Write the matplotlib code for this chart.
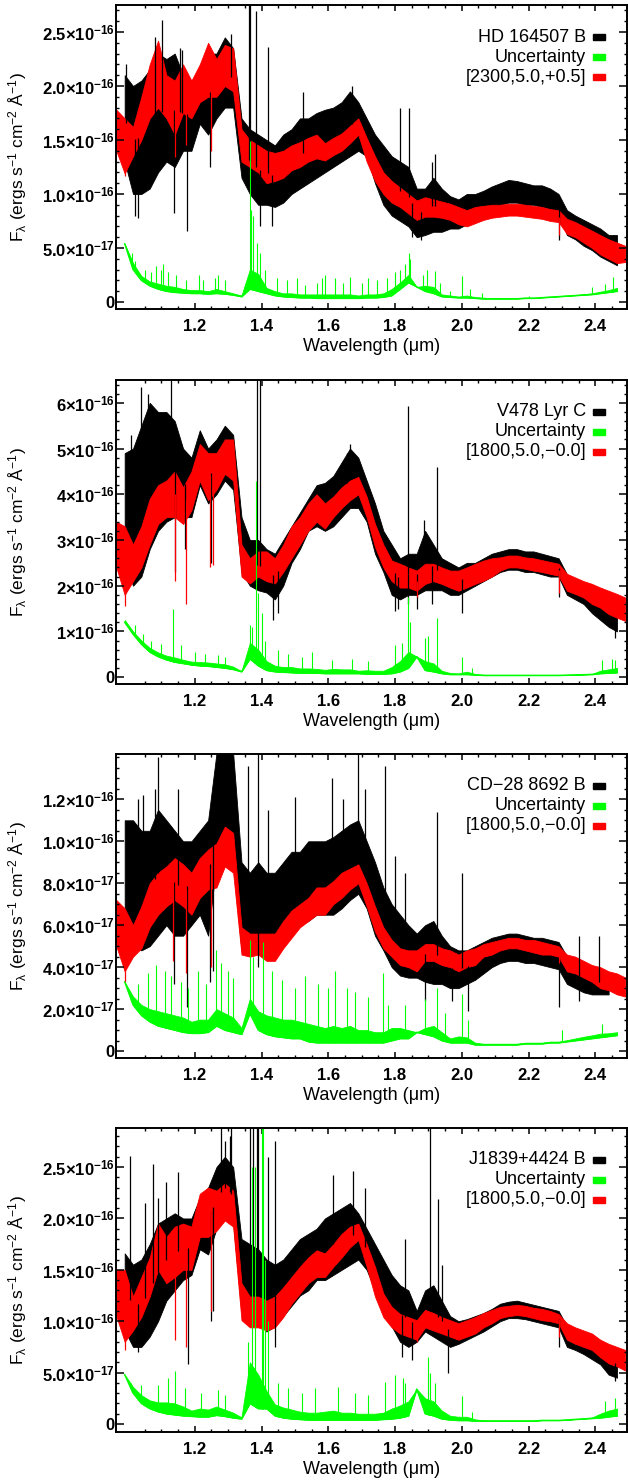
import numpy as np
import matplotlib
matplotlib.use("Agg")
import matplotlib.pyplot as plt
from matplotlib.patches import Rectangle
from matplotlib.ticker import FixedLocator, MultipleLocator

plt.rcParams["font.family"] = ["Liberation Sans", "DejaVu Sans"]
plt.rcParams["mathtext.fontset"] = "custom"
plt.rcParams["mathtext.rm"] = "Liberation Sans"
plt.rcParams["mathtext.it"] = "Liberation Sans"
plt.rcParams["mathtext.bf"] = "Liberation Sans:bold"

GREEN = "#00ff00"
RED = "#ff0000"

# common wavelength grid (micron), fluxes below are in units of 1e-16 erg/s/cm2/A
WAVE = [0.965, 0.990, 1.015, 1.040, 1.065, 1.090, 1.115, 1.140, 1.165, 1.190,
        1.215, 1.240, 1.265, 1.290, 1.315, 1.340, 1.365, 1.390, 1.415, 1.440,
        1.465, 1.490, 1.515, 1.540, 1.565, 1.590, 1.615, 1.640, 1.665, 1.690,
        1.715, 1.740, 1.765, 1.790, 1.815, 1.840, 1.865, 1.890, 1.915, 1.940,
        1.965, 1.990, 2.015, 2.040, 2.065, 2.090, 2.115, 2.140, 2.165, 2.190,
        2.215, 2.240, 2.265, 2.290, 2.315, 2.340, 2.365, 2.390, 2.415, 2.440,
        2.465, 2.490]

# ---------------- HD 164507 B ----------------
P1_BLK_LO = [None, 1.30, 1.00, 1.00, 1.05, 1.20, 1.30, 1.25, 1.40, 1.40,
             1.65, 1.55, 1.70, 1.80, 1.80, 1.15, 1.00, 0.90, 0.90, 0.88,
             0.92, 1.00, 1.05, 1.10, 1.15, 1.20, 1.25, 1.30, 1.35, 1.40,
             1.35, 1.10, 0.90, 0.80, 0.75, 0.70, 0.60, 0.62, 0.65, 0.65,
             0.68, 0.68, 0.72, 0.75, 0.80, 0.85, 0.90, 0.92, 0.92, 0.90,
             0.90, 0.88, 0.86, 0.82, 0.62, 0.58, 0.52, 0.48, 0.42, 0.38,
             0.34, None]
P1_BLK_HI = [None, 2.10, 2.00, 2.05, 2.15, 2.30, 2.25, 2.30, 2.10, 2.05,
             2.10, 2.30, 2.30, 2.45, 2.35, 1.70, 1.60, 1.55, 1.50, 1.45,
             1.55, 1.60, 1.70, 1.70, 1.75, 1.78, 1.80, 1.85, 1.95, 1.85,
             1.70, 1.55, 1.45, 1.35, 1.30, 1.25, 1.05, 1.05, 1.15, 1.05,
             0.98, 0.95, 1.00, 1.00, 1.03, 1.07, 1.10, 1.13, 1.12, 1.10,
             1.08, 1.08, 1.05, 1.00, 0.85, 0.80, 0.76, 0.72, 0.68, 0.62,
             0.62, None]
P1_RED_LO = [1.40, 1.19, 1.35, 1.50, 1.70, 1.80, 1.70, 1.55, 1.75, 1.70,
             1.85, 1.90, 1.90, 2.00, 1.95, 1.30, 1.25, 1.20, 1.10, 1.12,
             1.15, 1.22, 1.25, 1.30, 1.33, 1.31, 1.36, 1.40, 1.47, 1.55,
             1.30, 1.12, 1.00, 0.92, 0.88, 0.82, 0.76, 0.79, 0.79, 0.78,
             0.76, 0.72, 0.70, 0.73, 0.76, 0.78, 0.79, 0.80, 0.80, 0.79,
             0.78, 0.77, 0.75, 0.74, 0.63, 0.60, 0.55, 0.50, 0.44, 0.40,
             0.36, 0.37]
P1_RED_HI = [1.78, 1.70, 1.62, 1.90, 2.20, 2.42, 2.10, 2.05, 2.20, 2.05,
             2.20, 2.40, 2.25, 2.38, 2.35, 1.60, 1.50, 1.45, 1.40, 1.38,
             1.40, 1.45, 1.48, 1.52, 1.55, 1.47, 1.52, 1.56, 1.63, 1.70,
             1.52, 1.35, 1.20, 1.12, 1.06, 1.00, 0.94, 0.97, 0.95, 0.93,
             0.91, 0.88, 0.85, 0.88, 0.89, 0.90, 0.90, 0.91, 0.91, 0.90,
             0.89, 0.88, 0.86, 0.85, 0.77, 0.74, 0.70, 0.66, 0.62, 0.58,
             0.55, 0.52]
P1_GRN_BASE = [None, 0.54, 0.30, 0.20, 0.15, 0.12, 0.10, 0.09, 0.085, 0.08,
               0.08, 0.075, 0.08, 0.075, 0.065, 0.05, 0.12, 0.10, 0.08, 0.06,
               0.05, 0.045, 0.04, 0.04, 0.035, 0.035, 0.035, 0.035, 0.035, 0.035,
               0.04, 0.04, 0.045, 0.06, 0.12, 0.18, 0.14, 0.10, 0.08, 0.05,
               0.045, 0.04, 0.04, 0.035, 0.03, 0.03, 0.03, 0.03, 0.03, 0.035,
               0.035, 0.04, 0.045, 0.05, 0.055, 0.06, 0.065, 0.07, 0.08, 0.09,
               0.10, None]
P1_GRN_TOP = [None, 0.54, 0.36, 0.24, 0.19, 0.17, 0.15, 0.14, 0.12, 0.11,
              0.11, 0.10, 0.12, 0.10, 0.08, 0.06, 0.30, 0.26, 0.13, 0.10,
              0.08, 0.08, 0.07, 0.07, 0.07, 0.07, 0.07, 0.07, 0.07, 0.06,
              0.07, 0.07, 0.08, 0.12, 0.18, 0.25, 0.14, 0.15, 0.14, 0.07,
              0.06, 0.05, 0.06, 0.045, 0.04, 0.035, 0.035, 0.035, 0.035, 0.04,
              0.04, 0.045, 0.05, 0.055, 0.06, 0.065, 0.072, 0.08, 0.095, 0.11,
              0.13, None]
P1_BLK_SPIKES = [(0.995, 2.20), (1.080, 2.45), (1.103, 2.61), (1.155, 2.35),
                 (1.163, 2.33), (1.310, 2.48), (1.362, 2.80), (1.365, 2.75),
                 (1.382, 2.69), (1.420, 2.36), (1.523, 1.94), (1.671, 2.00),
                 (1.815, 1.80), (1.841, 1.80), (1.910, 1.30), (1.920, 1.37),
                 (1.020, 0.80), (1.030, 0.78), (1.138, 0.82), (1.176, 0.66),
                 (1.247, 1.25), (1.395, 0.70), (1.432, 0.70), (1.850, 0.60),
                 (1.878, 0.57), (2.291, 0.57)]
P1_RED_DIPS = [(0.990, 1.17), (1.140, 1.34), (1.173, 1.45), (1.248, 1.40), (2.291, 0.62)]
P1_GRN_SPIKES = [(1.012, 0.45), (1.022, 0.38), (1.050, 0.30), (1.070, 0.28), (1.085, 0.33),
                 (1.100, 0.30), (1.105, 0.35), (1.120, 0.28), (1.145, 0.25), (1.175, 0.20),
                 (1.213, 0.25), (1.225, 0.20), (1.260, 0.22), (1.270, 0.25), (1.290, 0.20),
                 (1.365, 1.49), (1.368, 0.85), (1.375, 0.80), (1.385, 0.55), (1.395, 0.45),
                 (1.410, 0.30), (1.445, 0.22), (1.475, 0.20), (1.505, 0.22), (1.530, 0.16),
                 (1.565, 0.18), (1.580, 0.22), (1.590, 0.25), (1.620, 0.22), (1.645, 0.18),
                 (1.665, 0.23), (1.700, 0.18), (1.720, 0.22), (1.745, 0.20), (1.775, 0.22),
                 (1.800, 0.28), (1.815, 0.30), (1.830, 0.35), (1.841, 0.45), (1.845, 0.40),
                 (1.885, 0.25), (1.897, 0.30), (1.920, 0.29), (1.935, 0.18), (1.965, 0.10),
                 (2.000, 0.24), (2.025, 0.12), (2.060, 0.08), (2.200, 0.06), (2.390, 0.14),
                 (2.430, 0.17), (2.452, 0.23)]

# ---------------- V478 Lyr C ----------------
P2_BLK_LO = [None, 2.50, 2.00, 2.20, 2.80, 3.20, 3.40, 3.50, 3.50, 3.50,
             4.20, 3.80, 4.00, 4.30, 4.10, 2.30, 2.00, 1.90, 1.85, 1.70,
             2.00, 2.50, 2.80, 3.20, 3.30, 3.20, 3.30, 3.50, 3.70, 3.70,
             3.40, 2.70, 2.30, 1.80, 1.70, 1.80, 1.80, 1.90, 1.90, 1.90,
             1.80, 1.80, 1.90, 2.00, 2.10, 2.20, 2.30, 2.35, 2.35, 2.30,
             2.30, 2.25, 2.20, 2.20, 1.80, 1.70, 1.60, 1.40, 1.25, 1.10,
             1.00, None]
P2_BLK_HI = [None, 4.90, 5.00, 5.50, 6.00, 5.80, 5.80, 5.60, 5.00, 4.80,
             5.40, 5.00, 5.20, 5.50, 5.30, 3.50, 3.00, 3.00, 2.80, 2.70,
             3.00, 3.30, 3.60, 3.90, 4.20, 4.25, 4.40, 4.70, 5.00, 4.80,
             4.30, 3.80, 3.20, 2.90, 2.60, 2.70, 2.70, 3.20, 2.90, 2.60,
             2.50, 2.40, 2.50, 2.50, 2.60, 2.70, 2.75, 2.80, 2.80, 2.75,
             2.75, 2.70, 2.65, 2.60, 2.25, 2.10, 2.00, 1.90, 1.80, 1.60,
             1.50, None]
P2_RED_LO = [2.40, 1.80, 2.10, 2.40, 2.90, 3.35, 3.50, 3.50, 3.35, 3.65,
             4.30, 3.87, 4.10, 4.45, 4.30, 2.20, 2.05, 2.20, 2.10, 2.05,
             2.30, 2.60, 2.90, 3.20, 3.40, 3.25, 3.50, 3.70, 3.87, 4.00,
             3.50, 2.85, 2.40, 2.10, 1.96, 1.96, 1.89, 2.04, 2.10, 2.04,
             1.96, 1.89, 1.96, 2.04, 2.11, 2.20, 2.33, 2.40, 2.40, 2.37,
             2.33, 2.30, 2.26, 2.22, 1.89, 1.82, 1.74, 1.60, 1.52, 1.38,
             1.30, 1.23]
P2_RED_HI = [3.40, 3.30, 2.90, 3.30, 3.90, 4.20, 4.30, 4.50, 4.15, 4.50,
             5.10, 4.90, 4.90, 5.20, 5.20, 2.90, 2.60, 2.75, 2.75, 2.60,
             2.90, 3.30, 3.50, 3.80, 4.00, 3.80, 3.95, 4.15, 4.30, 4.38,
             3.95, 3.35, 2.90, 2.55, 2.48, 2.40, 2.33, 2.48, 2.48, 2.40,
             2.33, 2.33, 2.40, 2.48, 2.55, 2.60, 2.62, 2.66, 2.66, 2.62,
             2.60, 2.56, 2.52, 2.48, 2.26, 2.18, 2.10, 2.04, 1.96, 1.89,
             1.82, 1.74]
P2_GRN_BASE = [None, 1.20, 0.94, 0.72, 0.55, 0.45, 0.38, 0.33, 0.30, 0.27,
               0.25, 0.24, 0.22, 0.20, 0.17, 0.12, 0.40, 0.25, 0.15, 0.12,
               0.11, 0.10, 0.09, 0.09, 0.09, 0.08, 0.08, 0.08, 0.08, 0.08,
               0.07, 0.07, 0.07, 0.08, 0.12, 0.20, 0.45, 0.15, 0.12, 0.08,
               0.06, 0.06, 0.06, 0.05, 0.04, 0.04, 0.04, 0.04, 0.04, 0.04,
               0.04, 0.04, 0.04, 0.04, 0.045, 0.05, 0.055, 0.06, 0.08, 0.09,
               0.10, None]
P2_GRN_TOP = [None, 1.25, 1.00, 0.80, 0.64, 0.54, 0.47, 0.43, 0.38, 0.34,
              0.33, 0.32, 0.30, 0.28, 0.23, 0.13, 0.75, 0.60, 0.35, 0.25,
              0.22, 0.22, 0.19, 0.19, 0.18, 0.16, 0.18, 0.17, 0.17, 0.14,
              0.15, 0.14, 0.14, 0.22, 0.35, 0.55, 0.45, 0.35, 0.30, 0.14,
              0.09, 0.08, 0.12, 0.07, 0.05, 0.045, 0.045, 0.045, 0.045, 0.045,
              0.045, 0.045, 0.045, 0.045, 0.05, 0.058, 0.063, 0.07, 0.14, 0.17,
              0.20, None]
P2_BLK_SPIKES = [(1.010, 5.30), (1.040, 6.35), (1.060, 6.20), (1.130, 6.50),
                 (1.385, 6.60), (1.395, 6.60), (1.655, 4.90), (1.665, 5.10),
                 (1.840, 5.93), (1.888, 3.43), (1.925, 4.60),
                 (1.140, 2.30), (1.170, 2.80), (1.248, 2.50), (1.435, 1.25),
                 (1.450, 1.40), (1.800, 1.45), (1.810, 1.50), (1.840, 1.60),
                 (1.865, 1.50), (1.910, 1.60), (2.000, 1.41), (2.291, 1.75),
                 (2.460, 0.85)]
P2_RED_DIPS = [(0.990, 1.55), (1.140, 2.10), (1.175, 1.60), (1.247, 2.40),
               (1.255, 2.45), (1.865, 1.75), (2.291, 1.85)]
P2_GRN_SPIKES = [(1.020, 1.15), (1.045, 0.95), (1.070, 0.80), (1.100, 0.72), (1.135, 1.50),
                 (1.160, 0.70), (1.200, 0.55), (1.230, 0.50), (1.270, 0.48), (1.290, 0.45),
                 (1.365, 1.15), (1.372, 1.10), (1.382, 4.30), (1.390, 1.85), (1.400, 1.40),
                 (1.410, 0.80), (1.450, 0.60), (1.480, 0.50), (1.520, 0.45), (1.550, 0.55),
                 (1.610, 0.38), (1.670, 0.40), (1.720, 0.35), (1.800, 0.70), (1.820, 0.75),
                 (1.840, 1.75), (1.845, 1.20), (1.890, 0.85), (1.900, 0.90), (1.925, 1.30),
                 (2.000, 0.45), (2.030, 0.20), (2.420, 0.38), (2.450, 0.40), (2.460, 0.38)]

# ---------------- CD-28 8692 B ----------------
P3_BLK_LO = [None, 0.45, 0.50, 0.48, 0.50, 0.55, 0.60, 0.55, 0.55, 0.60,
             0.65, 0.55, 0.90, 0.95, 0.90, 0.48, 0.48, 0.48, 0.48, 0.48,
             0.55, 0.55, 0.60, 0.62, 0.65, 0.65, 0.65, 0.68, 0.72, 0.75,
             0.68, 0.55, 0.48, 0.40, 0.36, 0.35, 0.35, 0.33, 0.32, 0.32,
             0.30, 0.30, 0.32, 0.34, 0.37, 0.40, 0.42, 0.43, 0.43, 0.42,
             0.42, 0.41, 0.40, 0.39, 0.32, 0.30, 0.28, 0.27, 0.27, 0.27,
             None, None]
P3_BLK_HI = [None, 1.10, 1.10, 1.05, 1.05, 1.15, 1.10, 1.05, 1.00, 1.00,
             1.05, 1.10, 1.42, 1.42, 1.42, 0.90, 0.85, 0.90, 0.85, 0.85,
             0.90, 0.95, 0.95, 1.00, 1.00, 1.00, 1.02, 1.05, 1.08, 1.10,
             1.00, 0.90, 0.78, 0.70, 0.65, 0.60, 0.56, 0.60, 0.62, 0.55,
             0.50, 0.48, 0.48, 0.50, 0.52, 0.54, 0.55, 0.56, 0.56, 0.55,
             0.54, 0.54, 0.53, 0.52, 0.45, 0.43, 0.42, 0.40, 0.38, 0.36,
             None, None]
P3_RED_LO = [0.50, 0.38, 0.45, 0.49, 0.59, 0.65, 0.69, 0.72, 0.69, 0.65,
             0.73, 0.77, 0.78, 0.88, 0.85, 0.46, 0.45, 0.46, 0.43, 0.43,
             0.49, 0.54, 0.59, 0.62, 0.65, 0.65, 0.70, 0.73, 0.77, 0.80,
             0.69, 0.57, 0.49, 0.45, 0.41, 0.40, 0.38, 0.43, 0.43, 0.41,
             0.40, 0.38, 0.40, 0.41, 0.45, 0.46, 0.48, 0.49, 0.49, 0.48,
             0.47, 0.46, 0.46, 0.45, 0.38, 0.37, 0.35, 0.33, 0.30, 0.29,
             0.27, 0.26]
P3_RED_HI = [0.72, 0.68, 0.60, 0.69, 0.80, 0.85, 0.88, 0.92, 0.89, 0.85,
             0.92, 0.96, 0.99, 1.07, 1.04, 0.59, 0.56, 0.56, 0.56, 0.56,
             0.62, 0.67, 0.70, 0.73, 0.78, 0.78, 0.81, 0.85, 0.87, 0.89,
             0.80, 0.69, 0.59, 0.53, 0.49, 0.48, 0.48, 0.51, 0.51, 0.49,
             0.48, 0.46, 0.48, 0.49, 0.51, 0.52, 0.53, 0.54, 0.54, 0.53,
             0.53, 0.52, 0.51, 0.50, 0.46, 0.45, 0.43, 0.41, 0.40, 0.38,
             0.37, 0.35]
P3_GRN_BASE = [None, 0.33, 0.22, 0.17, 0.14, 0.12, 0.11, 0.10, 0.09, 0.085,
               0.085, 0.09, 0.12, 0.10, 0.09, 0.08, 0.18, 0.10, 0.08, 0.07,
               0.065, 0.06, 0.06, 0.045, 0.04, 0.04, 0.04, 0.04, 0.04, 0.04,
               0.04, 0.04, 0.04, 0.05, 0.06, 0.06, 0.09, 0.08, 0.07, 0.05,
               0.04, 0.04, 0.04, 0.03, 0.03, 0.03, 0.03, 0.03, 0.03, 0.035,
               0.035, 0.035, 0.04, 0.04, 0.045, 0.05, 0.055, 0.06, 0.065, 0.07,
               0.075, None]
P3_GRN_TOP = [None, 0.33, 0.26, 0.22, 0.20, 0.19, 0.18, 0.17, 0.16, 0.14,
              0.15, 0.15, 0.20, 0.18, 0.16, 0.11, 0.25, 0.19, 0.17, 0.16,
              0.15, 0.15, 0.14, 0.13, 0.12, 0.11, 0.12, 0.11, 0.12, 0.10,
              0.10, 0.09, 0.09, 0.11, 0.11, 0.10, 0.09, 0.11, 0.12, 0.09,
              0.06, 0.07, 0.065, 0.04, 0.035, 0.035, 0.035, 0.035, 0.035, 0.04,
              0.04, 0.04, 0.045, 0.045, 0.052, 0.06, 0.068, 0.075, 0.083, 0.085,
              0.09, None]
P3_BLK_SPIKES = [(1.030, 1.20), (1.045, 1.22), (1.080, 1.25), (1.090, 1.40),
                 (1.150, 1.25), (1.360, 1.36), (1.390, 1.42), (1.420, 1.15),
                 (1.500, 1.21), (1.610, 1.30), (1.645, 1.20), (1.690, 1.42),
                 (1.710, 1.25), (1.770, 1.36), (1.800, 0.93), (1.830, 0.85),
                 (1.925, 1.14), (2.000, 0.85), (2.350, 0.55), (2.410, 0.55),
                 (1.138, 0.32), (1.177, 0.21), (1.245, 0.33), (1.255, 0.38),
                 (1.390, 0.40), (1.890, 0.24), (1.970, 0.24), (2.020, 0.19),
                 (2.290, 0.21), (2.350, 0.24)]
P3_RED_DIPS = [(0.990, 0.33), (1.135, 0.43), (1.175, 0.37), (1.248, 0.40),
               (1.865, 0.38), (2.291, 0.42)]
P3_GRN_SPIKES = [(1.030, 0.32), (1.060, 0.37), (1.085, 0.41), (1.110, 0.38), (1.130, 0.36),
                 (1.160, 0.33), (1.180, 0.30), (1.210, 0.38), (1.235, 0.32), (1.265, 0.48),
                 (1.280, 0.42), (1.300, 0.38), (1.315, 0.35), (1.365, 0.53), (1.375, 0.45),
                 (1.405, 0.52), (1.430, 0.38), (1.460, 0.34), (1.500, 0.30), (1.530, 0.36),
                 (1.570, 0.32), (1.600, 0.30), (1.620, 0.38), (1.655, 0.30), (1.680, 0.28),
                 (1.720, 0.26), (1.765, 0.37), (1.780, 0.22), (1.830, 0.22), (1.890, 0.25),
                 (1.925, 0.30), (1.950, 0.18), (2.000, 0.27), (2.020, 0.15), (2.300, 0.10),
                 (2.420, 0.13)]

# ---------------- J1839+4424 B ----------------
P4_BLK_LO = [None, 0.91, 0.75, 0.75, 0.85, 1.00, 1.20, 1.30, 1.40, 1.45,
             1.70, 1.65, 1.90, 2.00, 1.95, 1.10, 1.00, 1.00, 0.90, 0.95,
             1.05, 1.15, 1.25, 1.30, 1.40, 1.40, 1.45, 1.50, 1.55, 1.60,
             1.50, 1.30, 1.10, 0.95, 0.80, 0.75, 0.80, 0.90, 0.85, 0.80,
             0.75, 0.78, 0.82, 0.86, 0.90, 0.95, 1.00, 1.03, 1.03, 1.02,
             1.00, 0.98, 0.96, 0.94, 0.75, 0.72, 0.68, 0.63, 0.58, 0.48,
             0.45, None]
P4_BLK_HI = [None, 1.66, 1.55, 1.60, 1.75, 1.95, 2.00, 2.05, 2.00, 2.00,
             2.20, 2.30, 2.50, 2.60, 2.50, 1.80, 1.75, 1.70, 1.60, 1.55,
             1.60, 1.70, 1.80, 1.85, 1.90, 2.00, 2.05, 2.10, 2.15, 2.05,
             1.90, 1.75, 1.60, 1.45, 1.35, 1.30, 1.10, 1.30, 1.35, 1.20,
             1.05, 1.00, 1.02, 1.05, 1.08, 1.12, 1.17, 1.19, 1.20, 1.18,
             1.16, 1.14, 1.12, 1.10, 0.95, 0.92, 0.88, 0.85, 0.80, 0.75,
             0.72, None]
P4_RED_LO = [1.05, 0.80, 0.91, 1.04, 1.24, 1.50, 1.37, 1.43, 1.50, 1.50,
             1.82, 1.82, 1.88, 1.98, 1.92, 1.01, 0.94, 0.94, 0.91, 0.94,
             1.04, 1.17, 1.27, 1.37, 1.43, 1.43, 1.53, 1.62, 1.72, 1.79,
             1.53, 1.24, 1.04, 0.94, 0.88, 0.85, 0.82, 0.94, 0.91, 0.88,
             0.85, 0.82, 0.85, 0.88, 0.94, 0.98, 1.03, 1.05, 1.06, 1.05,
             1.03, 1.01, 1.00, 0.98, 0.82, 0.78, 0.75, 0.72, 0.65, 0.59,
             0.56, 0.52]
P4_RED_HI = [1.50, 1.50, 1.24, 1.43, 1.62, 1.95, 1.82, 1.92, 1.95, 1.92,
             2.24, 2.30, 2.27, 2.34, 2.27, 1.37, 1.24, 1.24, 1.20, 1.24,
             1.33, 1.43, 1.53, 1.62, 1.69, 1.66, 1.75, 1.85, 1.92, 1.95,
             1.75, 1.53, 1.27, 1.14, 1.07, 1.04, 1.01, 1.11, 1.08, 1.04,
             1.01, 0.98, 1.01, 1.04, 1.08, 1.11, 1.14, 1.15, 1.16, 1.15,
             1.13, 1.12, 1.10, 1.07, 0.98, 0.94, 0.91, 0.88, 0.82, 0.78,
             0.75, 0.72]
P4_GRN_BASE = [None, 0.48, 0.30, 0.20, 0.15, 0.12, 0.10, 0.09, 0.08, 0.075,
               0.07, 0.07, 0.085, 0.075, 0.06, 0.05, 0.20, 0.15, 0.15, 0.08,
               0.06, 0.05, 0.045, 0.04, 0.04, 0.04, 0.04, 0.04, 0.04, 0.04,
               0.04, 0.04, 0.045, 0.05, 0.06, 0.08, 0.34, 0.10, 0.08, 0.05,
               0.04, 0.035, 0.035, 0.03, 0.03, 0.03, 0.03, 0.03, 0.03, 0.03,
               0.03, 0.035, 0.035, 0.035, 0.04, 0.045, 0.05, 0.055, 0.06, 0.07,
               0.08, None]
P4_GRN_TOP = [None, 0.48, 0.36, 0.28, 0.23, 0.21, 0.21, 0.20, 0.17, 0.13,
              0.15, 0.14, 0.17, 0.14, 0.11, 0.065, 0.60, 0.48, 0.32, 0.19,
              0.16, 0.14, 0.12, 0.11, 0.11, 0.12, 0.13, 0.11, 0.11, 0.10,
              0.10, 0.10, 0.11, 0.15, 0.18, 0.22, 0.34, 0.25, 0.22, 0.13,
              0.08, 0.07, 0.07, 0.045, 0.035, 0.033, 0.033, 0.033, 0.033, 0.033,
              0.033, 0.038, 0.038, 0.038, 0.043, 0.048, 0.055, 0.063, 0.10, 0.13,
              0.15, None]
P4_BLK_SPIKES = [(1.005, 2.61), (1.050, 2.15), (1.075, 2.53), (1.090, 2.20),
                 (1.115, 2.35), (1.150, 2.45), (1.280, 2.90), (1.290, 2.75),
                 (1.305, 2.80), (1.310, 2.90), (1.365, 2.90), (1.375, 2.90),
                 (1.385, 2.90), (1.390, 2.90), (1.420, 2.60), (1.440, 2.75),
                 (1.615, 2.42), (1.675, 2.46), (1.710, 2.30), (1.830, 1.80),
                 (1.905, 2.90), (1.930, 2.19), (1.940, 1.55),
                 (1.030, 0.70), (1.180, 0.58), (1.250, 1.00), (1.255, 1.10),
                 (1.440, 0.75), (1.820, 0.65), (1.850, 0.62), (1.960, 0.50),
                 (2.290, 0.75), (2.460, 0.42)]
P4_RED_DIPS = [(0.990, 0.72), (1.140, 0.82), (1.175, 0.75), (1.250, 1.10),
               (1.865, 0.80), (2.291, 0.85)]
P4_GRN_SPIKES = [(1.010, 0.40), (1.040, 0.38), (1.090, 0.38), (1.120, 0.45), (1.140, 0.52),
                 (1.170, 0.35), (1.220, 0.30), (1.270, 0.33), (1.290, 0.28), (1.360, 0.80),
                 (1.370, 2.50), (1.380, 2.50), (1.400, 2.90), (1.405, 2.90), (1.410, 1.60),
                 (1.420, 1.00), (1.450, 0.40), (1.480, 0.35), (1.520, 0.30), (1.560, 0.35),
                 (1.630, 0.36), (1.680, 0.30), (1.720, 0.28), (1.770, 0.41), (1.800, 0.48),
                 (1.825, 0.45), (1.830, 0.40), (1.900, 0.65), (1.905, 0.50), (1.920, 0.40),
                 (2.000, 0.27), (2.030, 0.12), (2.430, 0.22), (2.460, 0.25)]

NAMES = ["HD 164507 B", "V478 Lyr C", "CD\u221228 8692 B", "J1839+4424 B"]
MODELS = ["[2300,5.0,+0.5]", "[1800,5.0,\u22120.0]", "[1800,5.0,\u22120.0]", "[1800,5.0,\u22120.0]"]
YLIMS = [(-0.065, 2.75), (-0.15, 6.5), (-0.033, 1.416), (-0.078, 2.88)]
YTICKS = [[0, 0.5, 1.0, 1.5, 2.0, 2.5],
          [0, 1, 2, 3, 4, 5, 6],
          [0, 0.2, 0.4, 0.6, 0.8, 1.0, 1.2],
          [0, 0.5, 1.0, 1.5, 2.0, 2.5]]
YTICKLABELS = [["0", "5.0×10^{-17}", "1.0×10^{-16}", "1.5×10^{-16}", "2.0×10^{-16}", "2.5×10^{-16}"],
               ["0", "1×10^{-16}", "2×10^{-16}", "3×10^{-16}", "4×10^{-16}", "5×10^{-16}", "6×10^{-16}"],
               ["0", "2.0×10^{-17}", "4.0×10^{-17}", "6.0×10^{-17}", "8.0×10^{-17}", "1.0×10^{-16}", "1.2×10^{-16}"],
               ["0", "5.0×10^{-17}", "1.0×10^{-16}", "1.5×10^{-16}", "2.0×10^{-16}", "2.5×10^{-16}"]]
YMINOR = [0.1, 0.2, 0.05, 0.1]
XTICKS = [1.2, 1.4, 1.6, 1.8, 2.0, 2.2, 2.4]

PANELS = [
    dict(blo=P1_BLK_LO, bhi=P1_BLK_HI, rlo=P1_RED_LO, rhi=P1_RED_HI, gb=P1_GRN_BASE, gt=P1_GRN_TOP,
         bs=P1_BLK_SPIKES, rd=P1_RED_DIPS, gs=P1_GRN_SPIKES),
    dict(blo=P2_BLK_LO, bhi=P2_BLK_HI, rlo=P2_RED_LO, rhi=P2_RED_HI, gb=P2_GRN_BASE, gt=P2_GRN_TOP,
         bs=P2_BLK_SPIKES, rd=P2_RED_DIPS, gs=P2_GRN_SPIKES),
    dict(blo=P3_BLK_LO, bhi=P3_BLK_HI, rlo=P3_RED_LO, rhi=P3_RED_HI, gb=P3_GRN_BASE, gt=P3_GRN_TOP,
         bs=P3_BLK_SPIKES, rd=P3_RED_DIPS, gs=P3_GRN_SPIKES),
    dict(blo=P4_BLK_LO, bhi=P4_BLK_HI, rlo=P4_RED_LO, rhi=P4_RED_HI, gb=P4_GRN_BASE, gt=P4_GRN_TOP,
         bs=P4_BLK_SPIKES, rd=P4_RED_DIPS, gs=P4_GRN_SPIKES),
]


def arr(values):
    return np.array(values, dtype=float)


def spikes(ax, pairs, wl, ref, color, lw):
    x = np.array([p[0] for p in pairs])
    y = np.array([p[1] for p in pairs])
    ok = ~np.isnan(ref)
    y0 = np.interp(x, wl[ok], ref[ok])
    ax.vlines(x, y0, y, colors=color, lw=lw)


def draw_panel(ax, i):
    p = PANELS[i]
    wl = arr(WAVE)
    blo, bhi = arr(p["blo"]), arr(p["bhi"])
    rlo, rhi = arr(p["rlo"]), arr(p["rhi"])
    gb, gt = arr(p["gb"]), arr(p["gt"])

    ax.fill_between(wl, blo, bhi, color="black", lw=0.6)
    spikes(ax, p["bs"], wl, (blo + bhi) / 2, "black", 0.9)
    ax.fill_between(wl, rlo, rhi, color=RED, lw=0.6)
    spikes(ax, p["rd"], wl, (rlo + rhi) / 2, RED, 0.9)
    ax.fill_between(wl, gb, gt, color=GREEN, lw=0.6)
    ax.plot(wl, gb, color=GREEN, lw=1.0)
    spikes(ax, p["gs"], wl, gb, GREEN, 0.8)

    ax.set_xlim(0.964, 2.495)
    ax.set_ylim(*YLIMS[i])
    ax.xaxis.set_major_locator(FixedLocator(XTICKS))
    ax.xaxis.set_minor_locator(FixedLocator([1.05 + 0.05 * k for k in range(29)]))
    ax.set_xticklabels([f"{t:.1f}" for t in XTICKS], fontweight="bold", fontsize=12)
    ax.yaxis.set_major_locator(FixedLocator(YTICKS[i]))
    ax.yaxis.set_minor_locator(MultipleLocator(YMINOR[i]))
    ax.set_yticklabels([lab if lab == "0" else r"$\mathbf{" + lab + "}$" for lab in YTICKLABELS[i]],
                       fontweight="bold", fontsize=12)
    ax.tick_params(axis="x", which="major", direction="in", length=4.5, width=1.1, top=True, pad=7)
    ax.tick_params(axis="x", which="minor", direction="in", length=2.3, width=1.0, top=True)
    ax.tick_params(axis="y", which="major", direction="in", length=6, width=1.1, right=True, pad=1)
    ax.tick_params(axis="y", which="minor", direction="in", length=2.5, width=1.0, right=True)
    for s in ax.spines.values():
        s.set_linewidth(1.4)

    ax.set_xlabel("Wavelength (μm)", fontsize=13)
    ax.xaxis.set_label_coords(0.5, -0.095)
    ax.set_ylabel(r"F$_{λ}$ (ergs s$^{-1}$ cm$^{-2}$ Å$^{-1}$)", fontsize=12.5)
    ax.yaxis.set_label_coords(-0.17, 0.5)

    labels = [NAMES[i], "Uncertainty", MODELS[i]]
    colors = ["black", GREEN, RED]
    for k in range(3):
        y = 1 - (32 + 20 * k) / 304
        ax.text(0.920, y, labels[k], transform=ax.transAxes, ha="right", va="center", fontsize=13)
        ax.add_patch(Rectangle((0.933, y - 0.009), 0.024, 0.018, transform=ax.transAxes,
                               color=colors[k], clip_on=False))


def main():
    W, H = 628, 1480
    fig = plt.figure(figsize=(W / 100, H / 100), dpi=100)
    tops = [5, 380, 754, 1128]
    for i, top in enumerate(tops):
        ax = fig.add_axes([116 / W, 1 - (top + 304) / H, 511 / W, 304 / H])
        draw_panel(ax, i)
    fig.savefig("out.png", dpi=100)


if __name__ == "__main__":
    main()
